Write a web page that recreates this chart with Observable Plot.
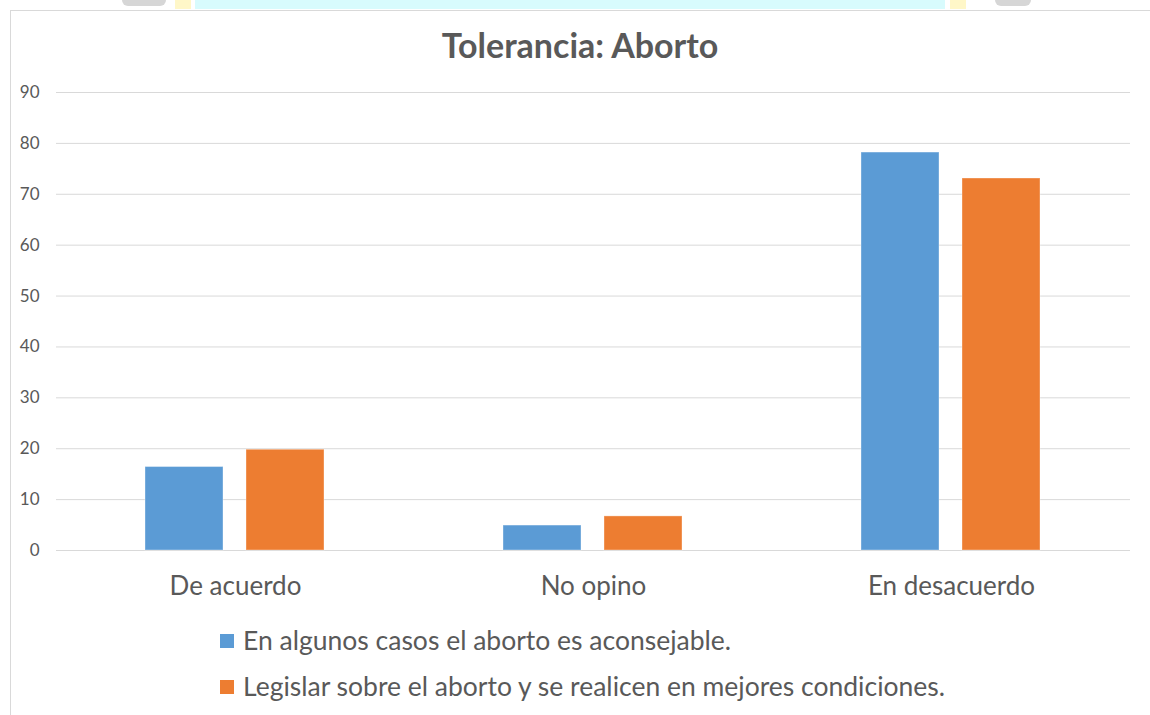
<!DOCTYPE html>
<html>
<head>
<meta charset="utf-8">
<script src="https://cdn.jsdelivr.net/npm/d3@7"></script>
<script src="https://cdn.jsdelivr.net/npm/@observablehq/plot@0.6"></script>
<style>
  html, body { margin: 0; padding: 0; background: #ffffff; }
  body { width: 1150px; height: 715px; position: relative; overflow: hidden; font-family: Lato, "Open Sans", sans-serif; }
  #topstrip { position: absolute; left: 195px; top: 0; width: 750px; height: 9px; background: #d8fbfd; }
  .yel { position: absolute; top: 0; height: 9px; background: #fff7c8; }
  .gry { position: absolute; top: 0; height: 6px; background: #d6d6d6; border-radius: 0 0 14px 14px; }
  #frame { position: absolute; left: 10px; top: 10px; width: 1160px; height: 720px; border-left: 1px solid #d9d9d9; border-top: 1px solid #d9d9d9; background: #ffffff; }
  #title { position: absolute; left: 0; top: 25px; width: 1160px; text-align: center; font-size: 34px; line-height: 40px; font-weight: bold; color: #595959; }
  #chart { position: absolute; left: 0; top: 70px; }
  #legend { position: absolute; left: 220px; top: 623px; font-size: 26.5px; color: #595959; }
  .item { height: 46px; line-height: 34px; display: flex; align-items: flex-start; }
  .sw { width: 14px; height: 14px; margin-right: 9px; margin-top: 11px; flex: none; }
</style>
</head>
<body>
<div id="topstrip"></div>
<div class="yel" style="left:175px;width:16px"></div>
<div class="yel" style="left:950px;width:16px"></div>
<div class="gry" style="left:122px;width:44px"></div>
<div class="gry" style="left:995px;width:36px"></div>
<div id="frame"></div>
<div id="title">Tolerancia: Aborto</div>
<div id="chart"></div>
<div id="legend"></div>
<script>
const categories = ["De acuerdo", "No opino", "En desacuerdo"];
const series = [
  "En algunos casos el aborto es aconsejable.",
  "Legislar sobre el aborto y se realicen en mejores condiciones."
];
const valuesA = [16.4, 4.9, 78.2];
const valuesB = [19.8, 6.7, 73.1];
const yTicks = [0, 10, 20, 30, 40, 50, 60, 70, 80, 90];
const colors = ["#5b9bd5", "#ed7d31"];

const data = [];
categories.forEach((c, i) => {
  data.push({cat: c, series: series[0], value: valuesA[i]});
  data.push({cat: c, series: series[1], value: valuesB[i]});
});

const chart = Plot.plot({
  width: 1150,
  height: 540,
  marginLeft: 55,
  marginRight: 19,
  marginTop: 22,
  marginBottom: 60,
  style: {fontFamily: "Lato, 'Open Sans', sans-serif", background: "transparent"},
  fx: {domain: categories, paddingInner: 0, paddingOuter: 0, label: null, axis: null},
  x: {domain: series, paddingInner: 0.2255, paddingOuter: 0.871, axis: null},
  y: {domain: [0, 90], axis: null},
  color: {domain: series, range: colors},
  marks: [
    Plot.gridY(yTicks, {stroke: "#d9d9d9", strokeOpacity: 1, strokeWidth: 1}),
    Plot.axisY(yTicks, {anchor: "left", tickSize: 0, tickPadding: 17, fontSize: 17, color: "#595959", label: null}),
    Plot.barY(data, {fx: "cat", x: "series", y: "value", fill: "series", stroke: "white", strokeOpacity: 0.35, strokeWidth: 1}),
    Plot.axisFx({anchor: "bottom", tickSize: 0, tickPadding: 26, fontSize: 26, color: "#595959", label: null})
  ]
});
document.getElementById("chart").appendChild(chart);

const legend = document.getElementById("legend");
series.forEach((s, i) => {
  const item = document.createElement("div");
  item.className = "item";
  const sw = document.createElement("span");
  sw.className = "sw";
  sw.style.background = colors[i];
  const t = document.createElement("span");
  t.textContent = s;
  item.appendChild(sw);
  item.appendChild(t);
  legend.appendChild(item);
});
</script>
</body>
</html>
